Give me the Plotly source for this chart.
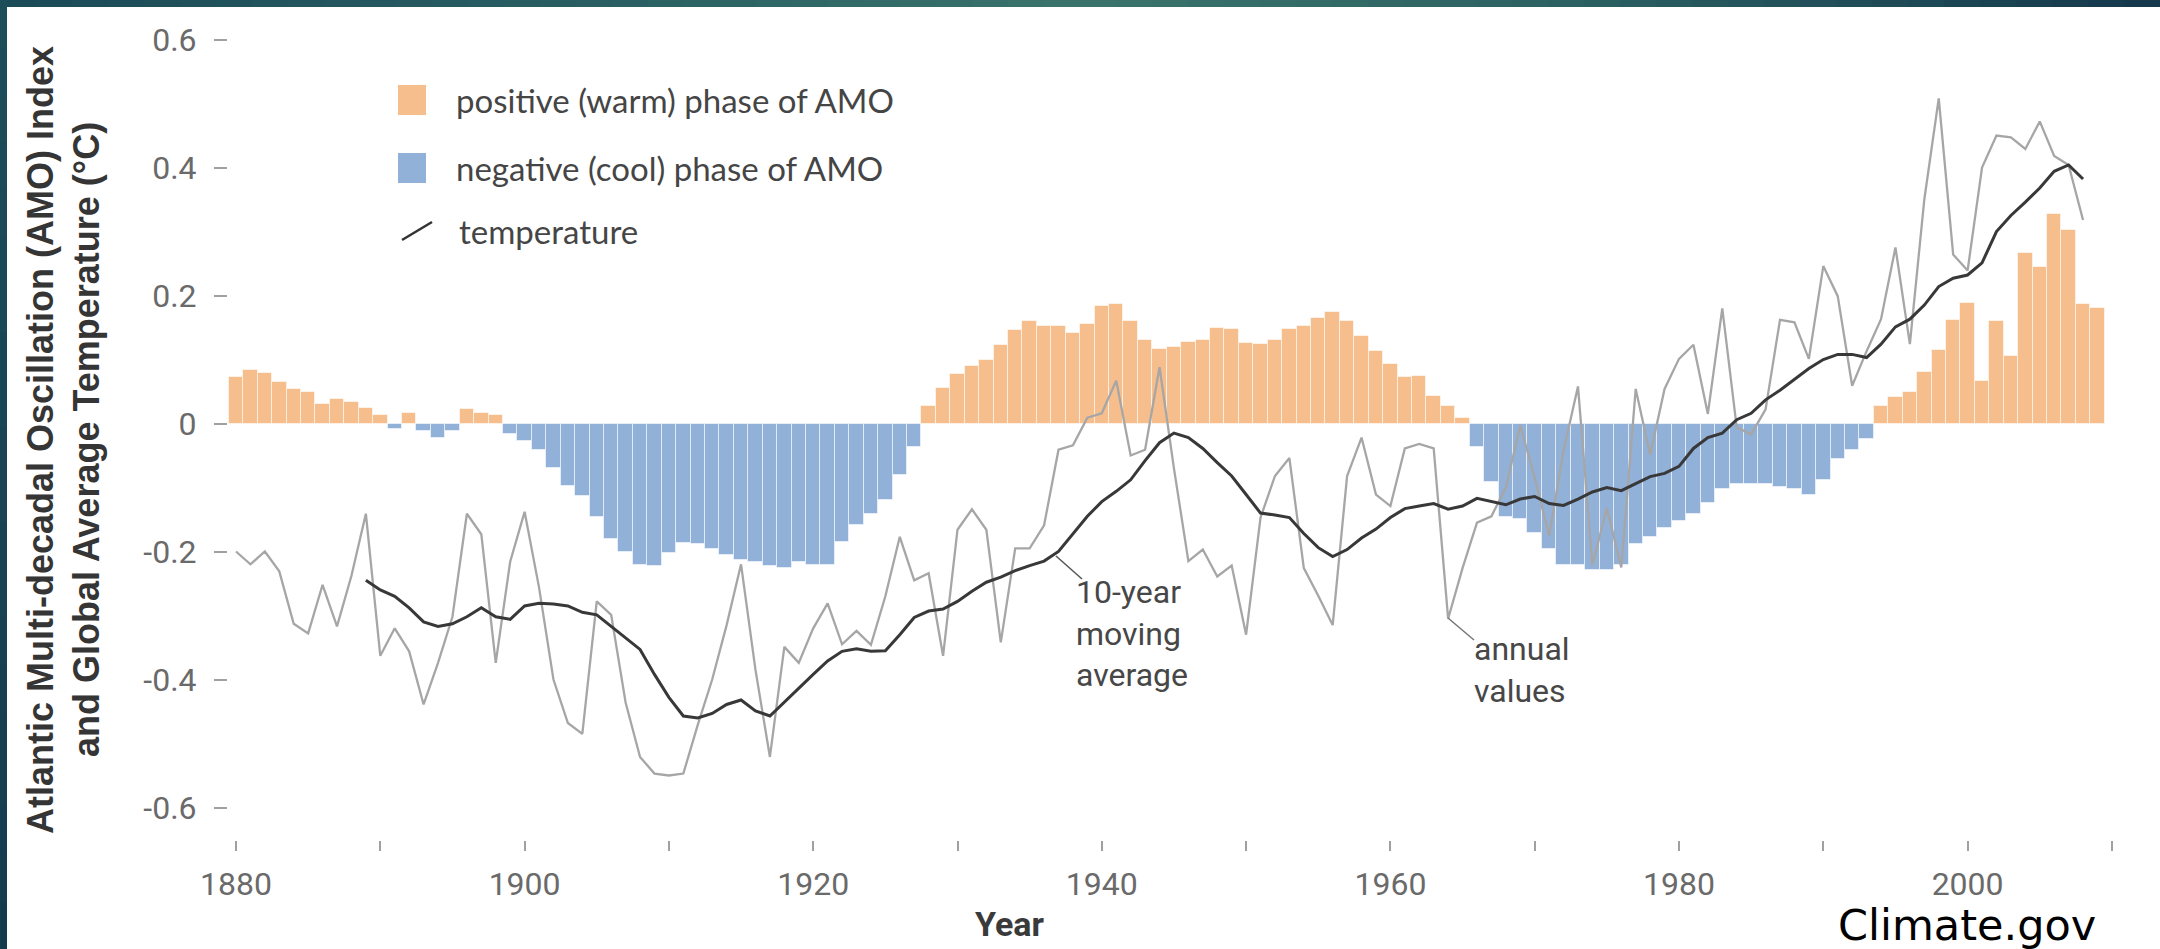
import plotly.graph_objects as go

# ---------------- data ----------------
amo_years = list(range(1880, 2010))
amo_index = [
    0.072, 0.083, 0.079, 0.065, 0.054, 0.050, 0.030, 0.039, 0.034, 0.024,
    0.013, -0.008, 0.016, -0.012, -0.023, -0.012, 0.022, 0.016, 0.014, -0.016,
    -0.027, -0.042, -0.070, -0.097, -0.113, -0.146, -0.181, -0.201, -0.221, -0.223,
    -0.203, -0.187, -0.189, -0.196, -0.206, -0.214, -0.217, -0.223, -0.226, -0.217,
    -0.221, -0.221, -0.185, -0.159, -0.141, -0.120, -0.080, -0.037, 0.027, 0.056,
    0.077, 0.090, 0.099, 0.123, 0.146, 0.160, 0.153, 0.153, 0.142, 0.156,
    0.183, 0.186, 0.160, 0.131, 0.117, 0.120, 0.128, 0.131, 0.149, 0.148,
    0.126, 0.124, 0.130, 0.148, 0.153, 0.165, 0.174, 0.160, 0.136, 0.113,
    0.093, 0.072, 0.074, 0.043, 0.027, 0.008, -0.037, -0.092, -0.146, -0.149,
    -0.171, -0.196, -0.221, -0.221, -0.229, -0.229, -0.221, -0.189, -0.178, -0.163,
    -0.153, -0.142, -0.124, -0.103, -0.095, -0.095, -0.094, -0.099, -0.103, -0.112,
    -0.088, -0.056, -0.042, -0.024, 0.027, 0.042, 0.050, 0.080, 0.115, 0.162,
    0.189, 0.067, 0.160, 0.106, 0.267, 0.244, 0.328, 0.303, 0.186, 0.181,
]

temp_years = list(range(1880, 2009))
temp_annual = [
    -0.200, -0.220, -0.200, -0.231, -0.313, -0.328, -0.252, -0.317, -0.238, -0.141,
    -0.363, -0.320, -0.356, -0.439, -0.374, -0.302, -0.141, -0.173, -0.374, -0.216,
    -0.138, -0.256, -0.400, -0.468, -0.485, -0.278, -0.299, -0.436, -0.521, -0.547,
    -0.550, -0.547, -0.471, -0.400, -0.315, -0.220, -0.385, -0.521, -0.349, -0.374,
    -0.320, -0.281, -0.345, -0.324, -0.346, -0.270, -0.177, -0.245, -0.234, -0.363,
    -0.166, -0.134, -0.166, -0.342, -0.195, -0.195, -0.159, -0.041, -0.034, 0.009,
    0.016, 0.067, -0.050, -0.041, 0.088, -0.070, -0.215, -0.197, -0.239, -0.222,
    -0.330, -0.147, -0.082, -0.054, -0.226, -0.269, -0.315, -0.082, -0.022, -0.111,
    -0.129, -0.039, -0.032, -0.039, -0.305, -0.226, -0.155, -0.145, -0.100, -0.003,
    -0.085, -0.175, -0.042, 0.058, -0.221, -0.132, -0.225, 0.054, -0.049, 0.054,
    0.101, 0.123, 0.015, 0.180, -0.006, -0.017, 0.022, 0.162, 0.158, 0.101,
    0.246, 0.199, 0.059, 0.113, 0.163, 0.275, 0.124, 0.350, 0.508, 0.264,
    0.239, 0.400, 0.450, 0.447, 0.429, 0.472, 0.418, 0.404, 0.318,
]

ma_years = list(range(1889, 2009))
temp_10yr = [
    -0.245,
    -0.260, -0.270, -0.288, -0.310, -0.317, -0.313, -0.302, -0.288, -0.302, -0.306,
    -0.285, -0.281, -0.282, -0.285, -0.295, -0.299, -0.317, -0.335, -0.353, -0.392,
    -0.428, -0.457, -0.460, -0.453, -0.439, -0.432, -0.449, -0.457, -0.435, -0.414,
    -0.392, -0.371, -0.356, -0.352, -0.356, -0.355, -0.330, -0.303, -0.293, -0.290,
    -0.278, -0.262, -0.248, -0.240, -0.230, -0.222, -0.215, -0.200, -0.172, -0.145,
    -0.122, -0.106, -0.088, -0.058, -0.030, -0.015, -0.022, -0.039, -0.061, -0.082,
    -0.111, -0.140, -0.143, -0.147, -0.172, -0.194, -0.208, -0.197, -0.179, -0.165,
    -0.147, -0.133, -0.129, -0.125, -0.134, -0.129, -0.117, -0.122, -0.127, -0.118,
    -0.114, -0.125, -0.128, -0.118, -0.107, -0.100, -0.105, -0.094, -0.083, -0.078,
    -0.067, -0.039, -0.022, -0.015, 0.006, 0.016, 0.037, 0.052, 0.069, 0.086,
    0.100, 0.108, 0.108, 0.103, 0.124, 0.151, 0.163, 0.185, 0.214, 0.227,
    0.232, 0.251, 0.300, 0.325, 0.346, 0.368, 0.394, 0.404, 0.382,
]

x_tick_values = list(range(1880, 2011, 10))
x_tick_labels = ["1880", "", "1900", "", "1920", "", "1940", "", "1960", "", "1980", "", "2000", ""]
y_tick_values = [-0.6, -0.4, -0.2, 0, 0.2, 0.4, 0.6]
y_tick_labels = ["-0.6", "-0.4", "-0.2", "0", "0.2", "0.4", "0.6"]

legend_labels = ["positive (warm) phase of AMO", "negative (cool) phase of AMO", "temperature"]
y_title_lines = ["Atlantic Multi-decadal Oscillation (AMO) Index", "and Global Average Temperature (°C)"]

# ---------------- styling ----------------
W, H = 2160, 949
ORANGE = "#f6be8d"
BLUE = "#92b1d9"
NARROW = "Liberation Sans Narrow, Roboto, sans-serif"


def px(x):
    return x / W


def py(y):
    return 1 - y / H


# axis scale fitted to the reference: year -> pixel, value -> pixel
X_PER_YEAR = 14.43
X_1880 = 236.0
Y_ZERO = 423.5
Y_PER_UNIT = 640.0
x_range = [1880 - X_1880 / X_PER_YEAR, 1880 + (W - X_1880) / X_PER_YEAR]
y_range = [(Y_ZERO - H) / Y_PER_UNIT, Y_ZERO / Y_PER_UNIT]

pos_vals = [v if v > 0 else None for v in amo_index]
neg_vals = [v if v < 0 else None for v in amo_index]

fig = go.Figure()
fig.add_trace(go.Bar(x=amo_years, y=pos_vals,
                     marker=dict(color=ORANGE, line=dict(color="rgba(255,255,255,0.55)", width=1)),
                     width=1.0, name=legend_labels[0]))
fig.add_trace(go.Bar(x=amo_years, y=neg_vals,
                     marker=dict(color=BLUE, line=dict(color="rgba(255,255,255,0.55)", width=1)),
                     width=1.0, name=legend_labels[1]))
fig.add_trace(go.Scatter(x=temp_years, y=temp_annual, mode="lines",
                         line=dict(color="#a6a6a6", width=2.3), name="annual values"))
fig.add_trace(go.Scatter(x=ma_years, y=temp_10yr, mode="lines",
                         line=dict(color="#383838", width=3), name="10-year moving average"))

shapes = []


def lerp(c1, c2, t):
    return tuple(round(a + (b - a) * t) for a, b in zip(c1, c2))


# decorative frame: gradient strip on top, dark strip on the left
top_stops = [(0.0, (27, 74, 87)), (0.3, (42, 97, 100)), (0.5, (58, 116, 107)),
             (0.72, (44, 98, 99)), (1.0, (20, 55, 76))]
n_seg = 60
for i in range(n_seg):
    t = (i + 0.5) / n_seg
    col = top_stops[-1][1]
    for (t0, c0), (t1, c1) in zip(top_stops[:-1], top_stops[1:]):
        if t0 <= t <= t1:
            col = lerp(c0, c1, (t - t0) / (t1 - t0))
            break
    shapes.append(dict(type="rect", xref="paper", yref="paper", x0=i / n_seg, x1=(i + 1) / n_seg + 0.001,
                       y0=py(7), y1=1, fillcolor="rgb(%d,%d,%d)" % col, line=dict(width=0), layer="above"))
n_left = 20
for i in range(n_left):
    t = (i + 0.5) / n_left
    col = lerp((28, 78, 90), (20, 58, 78), t)
    shapes.append(dict(type="rect", xref="paper", yref="paper", x0=0, x1=px(7),
                       y0=1 - (i + 1) / n_left - 0.001, y1=1 - i / n_left, fillcolor="rgb(%d,%d,%d)" % col,
                       line=dict(width=0), layer="above"))

# legend swatches
shapes.append(dict(type="rect", xref="paper", yref="paper", x0=px(398), x1=px(426), y0=py(115), y1=py(85),
                   fillcolor=ORANGE, line=dict(width=0)))
shapes.append(dict(type="rect", xref="paper", yref="paper", x0=px(398), x1=px(426), y0=py(183), y1=py(153),
                   fillcolor=BLUE, line=dict(width=0)))
shapes.append(dict(type="line", xref="paper", yref="paper", x0=px(402), y0=py(240), x1=px(432), y1=py(222),
                   line=dict(color="#333333", width=2.5)))
# leader lines of the callouts
shapes.append(dict(type="line", xref="paper", yref="paper", x0=px(1056), y0=py(556), x1=px(1082), y1=py(579),
                   line=dict(color="#555555", width=1.5)))
shapes.append(dict(type="line", xref="paper", yref="paper", x0=px(1448), y0=py(618), x1=px(1474), y1=py(640),
                   line=dict(color="#777777", width=1.5)))

annotations = []
LEG_FONT = dict(family="Lato, Open Sans, sans-serif", size=33, color="#454545")
for lab, yc, xl in zip(legend_labels, [100, 168, 231], [454, 454, 457]):
    annotations.append(dict(text=lab, xref="paper", yref="paper", x=px(xl), y=py(yc), xanchor="left",
                            yanchor="middle", showarrow=False, font=LEG_FONT))
CALLOUT_FONT = dict(family=NARROW, size=32, color="#474747")
annotations.append(dict(text="10-year<br>moving<br>average", xref="paper", yref="paper", x=px(1074), y=py(571),
                        xanchor="left", yanchor="top", align="left", showarrow=False, font=CALLOUT_FONT))
annotations.append(dict(text="annual<br>values", xref="paper", yref="paper", x=px(1472), y=py(628),
                        xanchor="left", yanchor="top", align="left", showarrow=False, font=CALLOUT_FONT))
annotations.append(dict(text="<b>Year</b>", xref="paper", yref="paper", x=px(1010), y=py(924),
                        xanchor="center", yanchor="middle", showarrow=False,
                        font=dict(family=NARROW, size=34, color="#3a3a3a")))
for line_txt, xc in zip(y_title_lines, [40, 86]):
    annotations.append(dict(text="<b>%s</b>" % line_txt, xref="paper", yref="paper", x=px(xc), y=py(440),
                            xanchor="center", yanchor="middle", textangle=-90, showarrow=False,
                            font=dict(family="Liberation Sans, Arial, sans-serif", size=36, color="#353535")))
annotations.append(dict(text="Climate.gov", xref="paper", yref="paper", x=px(1836), y=py(925),
                        xanchor="left", yanchor="middle", showarrow=False,
                        font=dict(family="DejaVu Sans, sans-serif", size=43, color="#000000")))

fig.update_layout(
    width=W, height=H, margin=dict(l=0, r=0, t=0, b=0),
    paper_bgcolor="white", plot_bgcolor="white",
    barmode="overlay", bargap=0, showlegend=False,
    shapes=shapes, annotations=annotations,
    xaxis=dict(domain=[0, 1], range=x_range, anchor="free", position=py(840),
               tickmode="array", tickvals=x_tick_values, ticktext=x_tick_labels,
               ticks="outside", ticklen=10, tickwidth=2, tickcolor="#a0a0a0",
               showgrid=False, zeroline=False, showline=False, ticklabelstandoff=6,
               tickfont=dict(family=NARROW, size=32, color="#6a6a6a")),
    yaxis=dict(domain=[0, 1], range=y_range, anchor="free", position=px(227),
               tickmode="array", tickvals=y_tick_values, ticktext=y_tick_labels,
               ticks="outside", ticklen=13, tickwidth=2, tickcolor="#a0a0a0",
               showgrid=False, zeroline=False, showline=False, ticklabelstandoff=11,
               tickfont=dict(family=NARROW, size=32, color="#6a6a6a")),
)

fig.write_html("out.html", config={"displayModeBar": False},
               post_script="document.body.style.margin='0';document.body.style.overflow='hidden';")
